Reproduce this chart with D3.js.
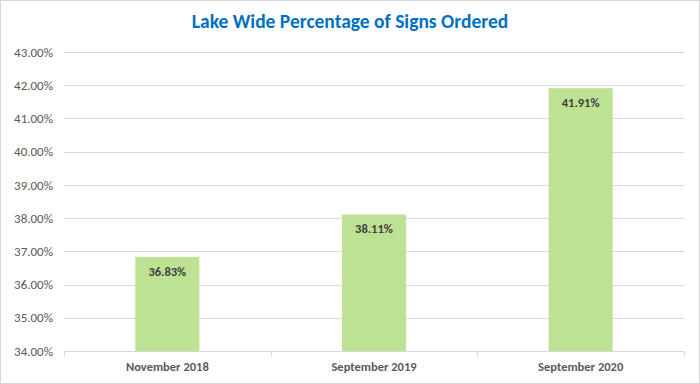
<!DOCTYPE html>
<html><head><meta charset="utf-8">
<script src="https://cdn.jsdelivr.net/npm/d3@7"></script>
<style>body{margin:0;background:#fff}svg{display:block}</style>
</head><body>
<svg id="c" width="700" height="384"></svg>
<script>
const categories = ["November 2018", "September 2019", "September 2020"];
const values = [36.83, 38.11, 41.91];
const yTicks = [34, 35, 36, 37, 38, 39, 40, 41, 42, 43];
const title = "Lake Wide Percentage of Signs Ordered";

const svg = d3.select("#c");
const W = 700, H = 384;
const m = {left: 64, right: 16, top: 52, bottom: 33};
const font = "Carlito, 'Open Sans', 'Liberation Sans', sans-serif";

svg.append("rect").attr("x",0.5).attr("y",0.5).attr("width",W-1).attr("height",H-1)
  .attr("fill","#fff").attr("stroke","#d9d9d9");

const x = d3.scaleBand().domain(categories).range([m.left, W-m.right]).paddingInner(0.69).paddingOuter(0.345);
const y = d3.scaleLinear().domain([34, 43]).range([H-m.bottom, m.top]);

// gridlines
svg.append("g").selectAll("line").data(yTicks.slice(1)).join("line")
  .attr("x1", m.left).attr("x2", W-m.right)
  .attr("y1", d => Math.round(y(d))+0.5).attr("y2", d => Math.round(y(d))+0.5)
  .attr("stroke","#d9d9d9").attr("stroke-width",1);

// y axis labels
const ya = svg.append("g").attr("transform",`translate(${m.left-11},0)`)
  .call(d3.axisLeft(y).tickValues(yTicks).tickFormat(d => d.toFixed(2)+"%").tickSize(0).tickPadding(0));
ya.select(".domain").remove();
ya.selectAll("text").attr("font-family",font).attr("font-size",13).attr("fill","#595959");

// bars
svg.append("g").selectAll("rect").data(values).join("rect")
  .attr("x",(d,i)=>x(categories[i])).attr("width",x.bandwidth())
  .attr("y",d=>y(d)).attr("height",d=>y(34)-y(d))
  .attr("fill","#bde293");

// data labels
svg.append("g").selectAll("text").data(values).join("text")
  .attr("x",(d,i)=>x(categories[i])+x.bandwidth()/2).attr("y",d=>y(d)+19)
  .attr("text-anchor","middle").attr("font-family",font).attr("font-size",12.5)
  .attr("font-weight","bold").attr("fill","#404040").text(d=>d.toFixed(2)+"%");

// x axis
const xa = svg.append("g").attr("transform",`translate(0,${Math.round(y(34))+0.5})`)
  .call(d3.axisBottom(x).tickSize(0).tickPadding(11));
xa.select(".domain").attr("stroke","#d9d9d9").attr("d",`M${m.left},0H${W-m.right}`);
xa.selectAll("text").attr("font-family",font).attr("font-size",12.5).attr("font-weight","bold").attr("fill","#595959");
// category boundary ticks
const bounds = [0,1,2,3].map(i => m.left + i*x.step());
xa.append("g").selectAll("line").data(bounds).join("line")
  .attr("x1",d=>Math.round(d)+0.5).attr("x2",d=>Math.round(d)+0.5).attr("y1",0).attr("y2",5)
  .attr("stroke","#d9d9d9");

// title
svg.append("text").attr("x",W/2).attr("y",28).attr("text-anchor","middle")
  .attr("font-family",font).attr("font-size",19.5).attr("font-weight","bold").attr("fill","#0070c0")
  .text(title);
</script>
</body></html>
